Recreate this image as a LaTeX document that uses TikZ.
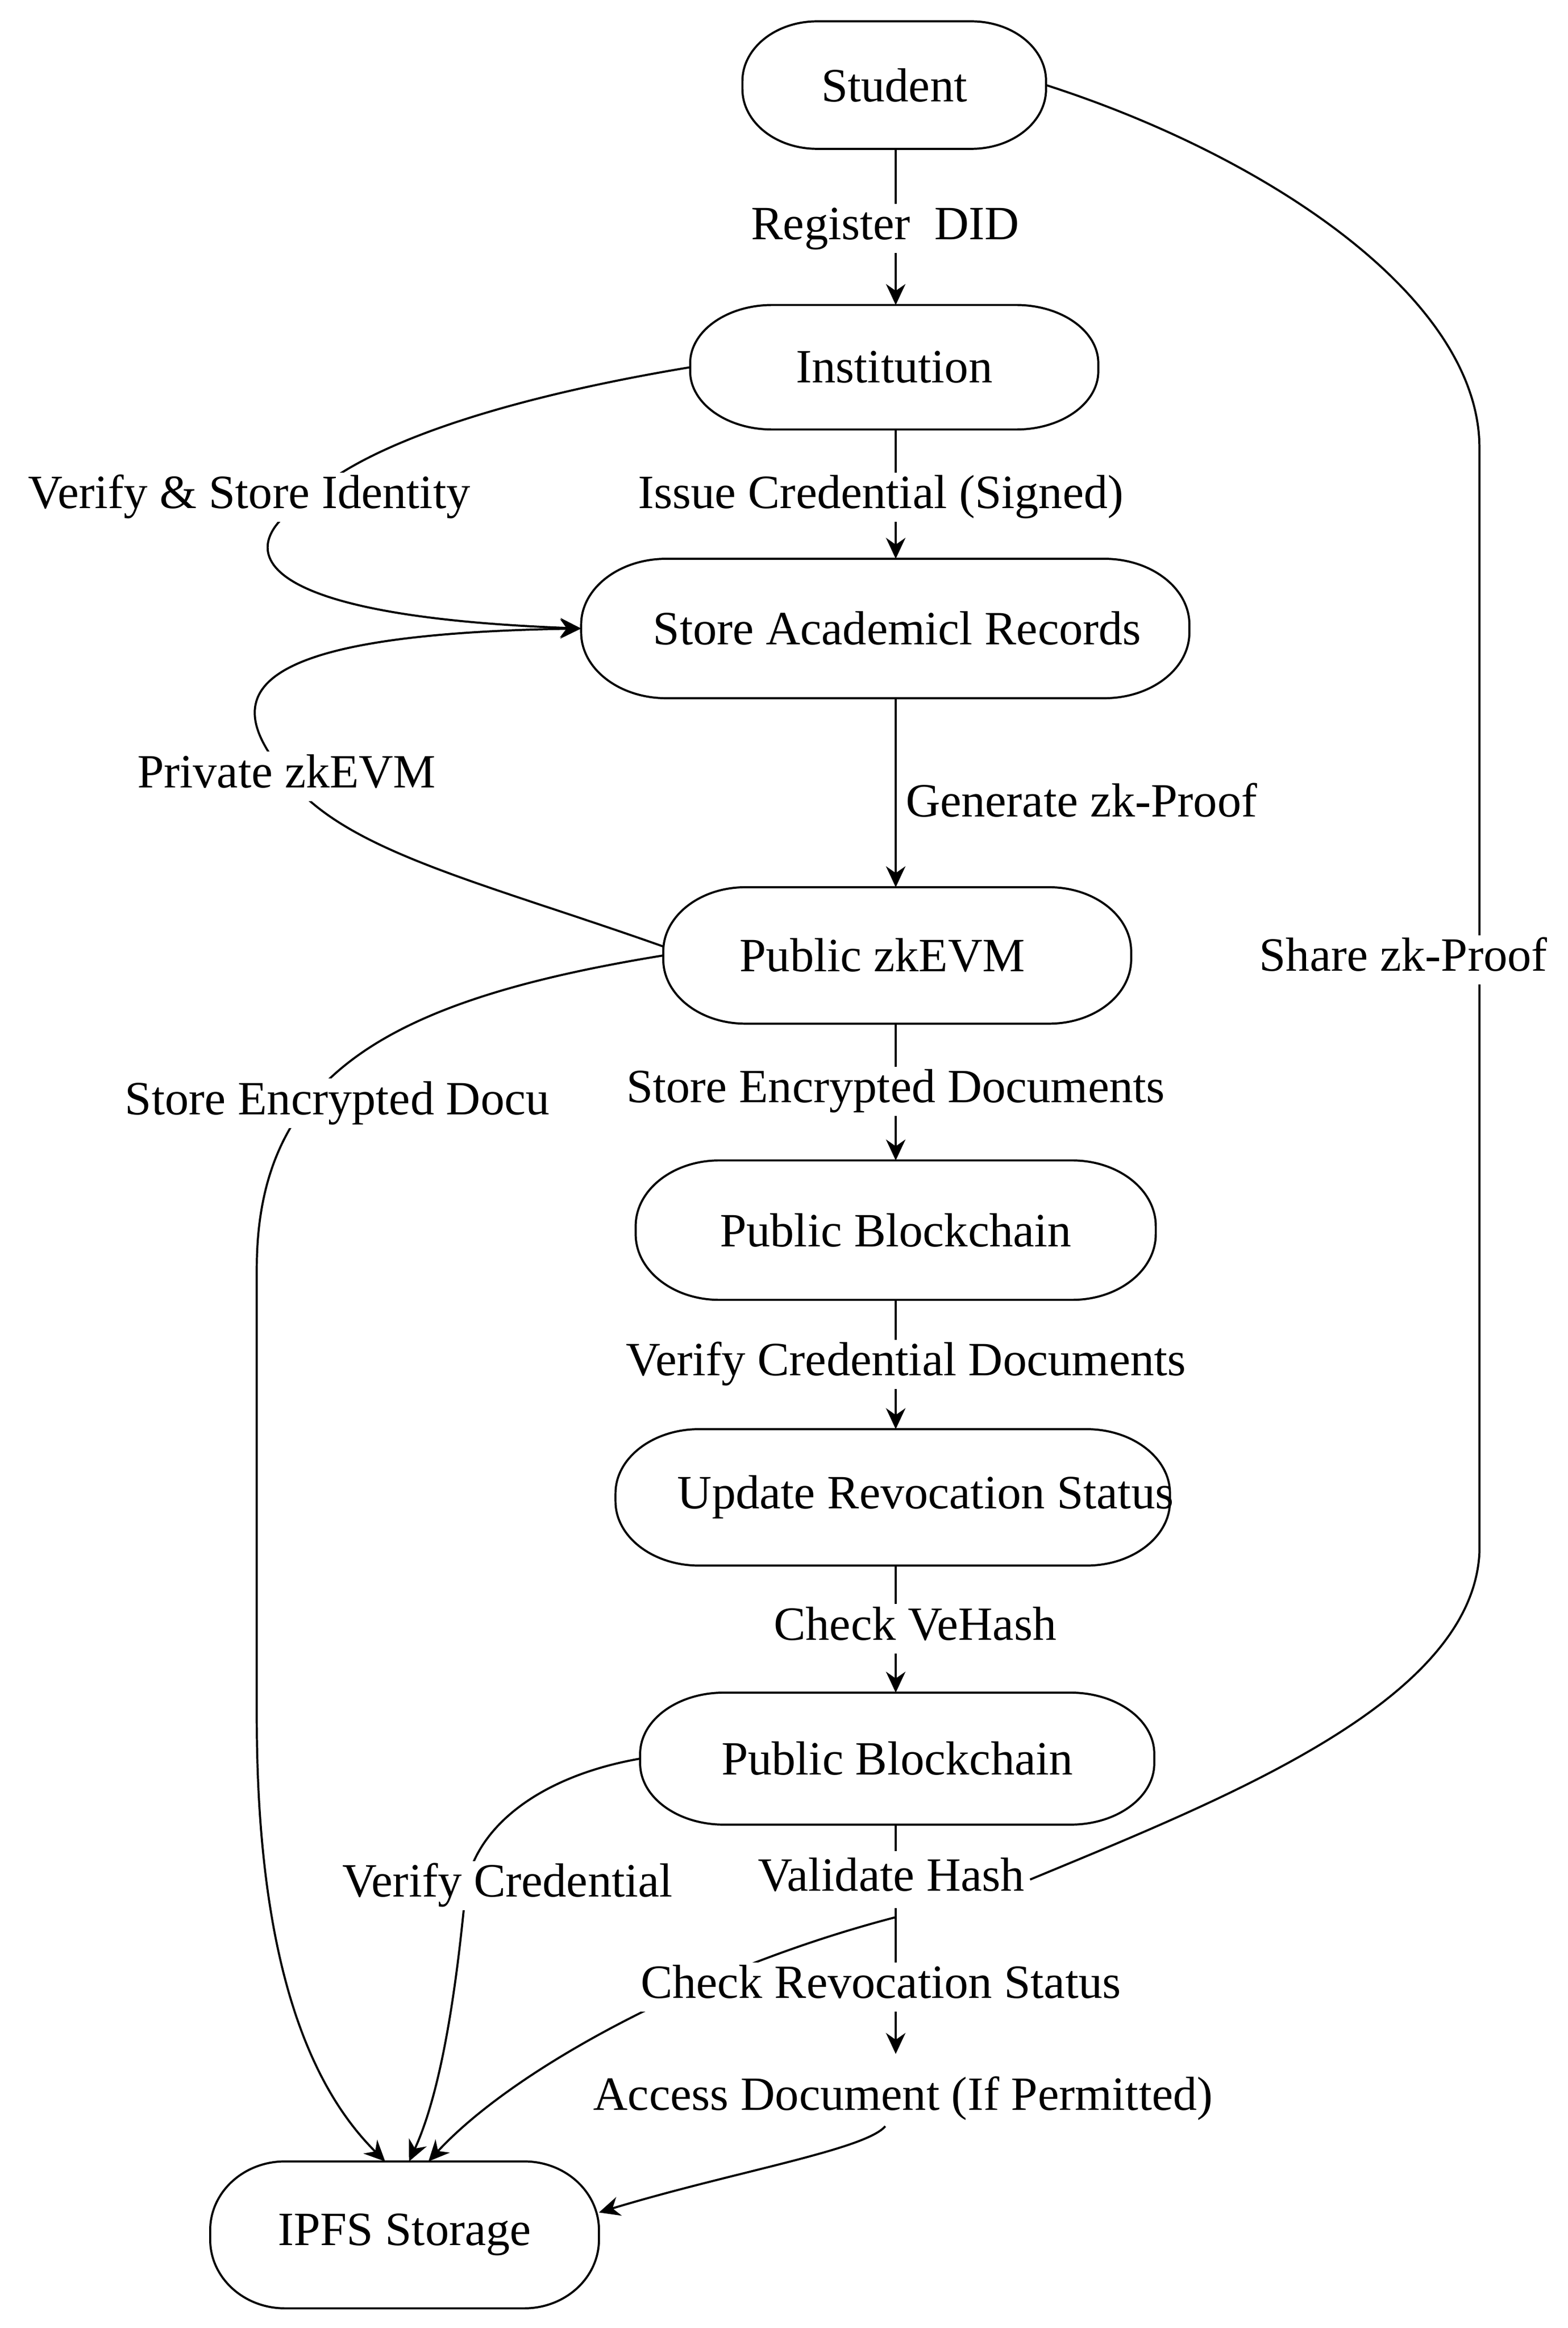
\documentclass[tikz,border=0pt]{standalone}
\usepackage{fontspec}
\setmainfont{Liberation Serif}
\usetikzlibrary{arrows.meta,calc}
\newcommand\drawebox[3]{%
  \draw ([xshift=#2]#1.north west) -- ([xshift=-#2]#1.north east)
    arc[start angle=90,end angle=0,x radius=#2,y radius=#3]
    -- ([yshift=#3]#1.south east)
    arc[start angle=0,end angle=-90,x radius=#2,y radius=#3]
    -- ([xshift=#2]#1.south west)
    arc[start angle=-90,end angle=-180,x radius=#2,y radius=#3]
    -- ([yshift=-#3]#1.north west)
    arc[start angle=180,end angle=90,x radius=#2,y radius=#3]
    -- cycle;}
\newcommand\offtext[2]{\hspace*{#1}\makebox[0pt]{#2}\hspace*{-#1}}
\begin{document}
\begin{tikzpicture}[x=1pt,y=-1pt,line width=1.4pt,
  every node/.style={font=\fontsize{32}{38}\selectfont},
  box/.style={draw=none,inner sep=0pt},
  lbl/.style={fill=white,inner xsep=2pt,inner ysep=1pt,text height=23pt,text depth=8pt},
  arr/.style={-{Stealth[length=14pt,width=13pt,inset=4.5pt]}}]
\fill[white] (0,0) rectangle (1050,1559.4);
\useasboundingbox (0,0) rectangle (1050,1559.4);
\coordinate (vx) at (600,0);
% main nodes
\node[box,minimum width=202pt,minimum height=84pt] (stu) at (599,57) {Student};
\node[box,minimum width=272pt,minimum height=82pt] (inst) at (599,246) {Institution};
\node[box,minimum width=406pt,minimum height=92pt] (sar) at (593,421) {\offtext{8pt}{Store Academicl Records}};
\node[box,minimum width=312pt,minimum height=90pt] (pz) at (601,640) {\offtext{-10pt}{Public zkEVM}};
\node[box,minimum width=347pt,minimum height=92pt] (pb1) at (600,824) {Public Blockchain};
\node[box,minimum width=370pt,minimum height=90pt] (urs) at (598,1003) {\offtext{22pt}{Update Revocation Status}};
\node[box,minimum width=343pt,minimum height=87pt] (pb2) at (601,1178) {Public Blockchain};
\node[box,minimum width=259pt,minimum height=97pt] (ipfs) at (271,1497) {IPFS Storage};
\drawebox{stu}{50pt}{40pt}
\drawebox{inst}{55pt}{39pt}
\drawebox{sar}{57pt}{44pt}
\drawebox{pz}{55pt}{43pt}
\drawebox{pb1}{56pt}{44pt}
\drawebox{urs}{56pt}{43pt}
\drawebox{pb2}{56pt}{41pt}
\drawebox{ipfs}{50pt}{46pt}
\node[lbl,inner sep=3pt] (vh) at (597,1259) {Validate Hash};
\node[lbl,inner sep=2pt] (acc) at (605,1406) {Access Document (If Permitted)};
% vertical chain
\draw[arr] (stu.south -| vx) -- (inst.north -| vx);
\draw[arr] (inst.south -| vx) -- (sar.north -| vx);
\draw[arr] (sar.south -| vx) -- (pz.north -| vx);
\draw[arr] (pz.south -| vx) -- (pb1.north -| vx);
\draw[arr] (pb1.south -| vx) -- (urs.north -| vx);
\draw[arr] (urs.south -| vx) -- (pb2.north -| vx);
\draw (pb2.south -| vx) -- (vh.north -| vx);
\draw[arr] (vh.south -| vx) -- ($(acc.north -| vx)+(0,-12)$);
% curved connectors
\draw[arr] (inst.west) .. controls (330,268) and (240,300) .. (205,335)
  .. controls (160,362) and (150,412) .. (sar.west);
\draw[arr] ($(pz.west)+(0,-6)$) .. controls (320,590) and (230,570) .. (192,520)
  .. controls (150,470) and (150,425) .. (sar.west);
\draw[arr] (pz.west) .. controls (260,670) and (172,720) .. (172,850) -- (172,1150)
  .. controls (172,1330) and (215,1405) .. ($(ipfs.north)+(-13,0)$);
\draw[arr] (pb2.west) .. controls (360,1190) and (318,1225) .. (312,1265)
  .. controls (306,1330) and (296,1400) .. ($(ipfs.north)+(3,0)$);
\draw[arr] ($(vh.south -| vx)+(0,6)$) .. controls (470,1318) and (345,1385) .. ($(ipfs.north)+(16,0)$);
\draw[arr] ($(acc.south)+(-12,0)$) .. controls (580,1440) and (490,1455) .. ($(ipfs.east)+(0,-15)$);
\draw (stu.east) .. controls (850,105) and (991,200) .. (991,300) -- (991,1040)
  .. controls (986,1140) and (820,1205) .. (vh.east);
% labels
\node[lbl] (lReg) at (593,153) {Register\ \ DID};
\node[lbl] (lIss) at (590,333) {Issue Credential (Signed)};
\node[anchor=west,inner sep=2pt] (lGen) at (604,536) {Generate zk-Proof};
\node[lbl] (lSed) at (600,731) {Store Encrypted Documents};
\node[lbl] (lVcd) at (607,914) {Verify Credential Documents};
\node[lbl] (lChk) at (613,1091) {Check VeHash};
\node[lbl] (lCrs) at (590,1331) {Check Revocation Status};
\node[lbl] (lVsi) at (167,333) {Verify \& Store Identity};
\node[lbl] (lPriv) at (192,520) {Private zkEVM};
\node[lbl] (lSedl) at (226,739) {Store Encrypted Docu};
\node[lbl] (lVc) at (340,1263) {Verify Credential};
\node[lbl] (lShare) at (940,643) {Share zk-Proof};
\end{tikzpicture}
\end{document}
